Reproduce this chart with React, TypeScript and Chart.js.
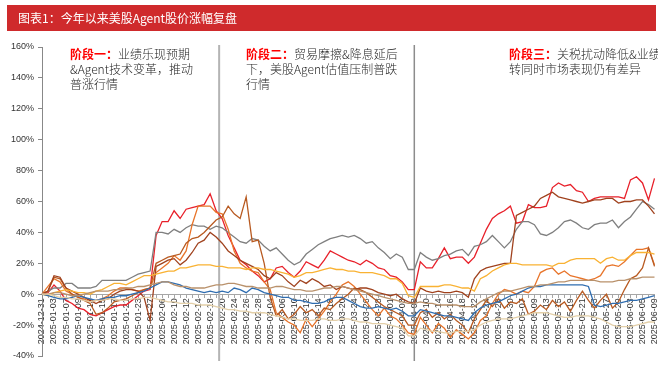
import React, { useEffect, useRef } from "react";
import { Chart, registerables } from "chart.js";
Chart.register(...registerables);

const dates = [
  "2024-12-31",
  "2025-01-02","2025-01-03","2025-01-06","2025-01-07","2025-01-08","2025-01-09","2025-01-10","2025-01-13","2025-01-14","2025-01-15","2025-01-16","2025-01-17","2025-01-20","2025-01-21","2025-01-22","2025-01-23","2025-01-24","2025-01-27",
  "2025-02-05","2025-02-06","2025-02-07","2025-02-10","2025-02-11","2025-02-12","2025-02-13","2025-02-14","2025-02-17","2025-02-18","2025-02-19","2025-02-20","2025-02-21","2025-02-24","2025-02-25","2025-02-26","2025-02-27","2025-02-28",
  "2025-03-03","2025-03-04","2025-03-05","2025-03-06","2025-03-07","2025-03-10","2025-03-11","2025-03-12","2025-03-13","2025-03-14","2025-03-17","2025-03-18","2025-03-19","2025-03-20","2025-03-21","2025-03-24","2025-03-25","2025-03-26","2025-03-27","2025-03-28","2025-03-31",
  "2025-04-01","2025-04-02","2025-04-03","2025-04-07","2025-04-08","2025-04-09","2025-04-10","2025-04-11","2025-04-14","2025-04-15","2025-04-16","2025-04-17","2025-04-18","2025-04-21","2025-04-22","2025-04-23","2025-04-24","2025-04-25","2025-04-28","2025-04-29","2025-04-30",
  "2025-05-06","2025-05-07","2025-05-08","2025-05-09","2025-05-12","2025-05-13","2025-05-14","2025-05-15","2025-05-16","2025-05-19","2025-05-20","2025-05-21","2025-05-22","2025-05-23","2025-05-26","2025-05-27","2025-05-28","2025-05-29","2025-05-30",
  "2025-06-03","2025-06-04","2025-06-05","2025-06-06","2025-06-09",
];

const redSeries = [0,1,6,2,-4,-6,-9,-10,-13,-14,-12,-10,-8,-7,-7,-4,-1,2,3,
  38,47,47,54,49,55,56,57,58,65,54,
  49,38,30,22,19,15,12,8,10,17,
  18,14,11,15,21,19,17,22,28,26,
  24,22,21,19,22,20,17,16,12,11,
  8,3,3,21,17,17,23,30,23,24,
  24,20,24,33,42,49,52,54,57,46,
  47,58,56,56,57,69,72,70,71,67,
  66,60,62,63,63,63,63,62,74,76,
  72,61,75];

const graySeries = [0,2,4,4,7,7,4,4,4,5,9,9,9,9,9,11,13,14,15,
  40,40,39,42,40,43,45,44,44,42,44,
  43,40,37,34,33,36,35,31,28,30,
  26,22,19,21,26,29,32,34,36,37,
  38,37,38,36,33,34,30,27,23,26,
  24,16,16,27,24,22,23,25,26,28,
  29,25,31,32,34,38,34,30,34,42,
  47,47,45,39,38,40,43,47,48,46,
  43,42,45,46,46,48,43,47,50,55,
  60,58,55];

const amberSeries = [0,-1,1,2,3,2,1,1,0,2,3,5,7,7,6,8,10,12,12,
  13,14,15,15,17,17,18,19,19,19,18,
  18,17,17,17,16,17,17,16,16,15,
  14,13,11,12,14,14,15,16,17,16,
  16,15,15,14,14,14,13,12,10,10,
  7,-1,-2,5,5,5,5,6,6,5,
  4,4,2,10,12,15,17,19,20,20,
  19,19,19,19,19,18,20,20,22,23,
  23,23,23,20,23,24,22,22,25,27,
  27,27,26];

const orangeSeries = [0,5,10,8,2,0,-2,-3,-5,-4,-3,-1,2,4,4,3,2,3,4,
  14,17,20,25,22,28,45,57,57,57,53,
  52,42,28,20,17,15,14,8,3,-12,
  -15,-18,-20,-25,-16,-21,-16,-11,-5,0,
  6,8,5,0,-5,-10,-14,-9,-14,-16,
  -20,-25,-26,-15,-20,-25,-19,-22,-28,-23,
  -26,-29,-25,-17,-14,-6,0,3,2,0,
  2,1,5,14,16,17,13,15,12,11,
  10,9,10,12,18,19,18,21,25,29,
  29,30,19];

const siennaSeries = [0,2,11,10,4,0,-2,-4,-6,-13,-12,-9,-5,-4,-3,-1,1,3,4,
  20,22,24,25,26,33,36,37,40,44,48,
  50,57,52,49,63,34,35,20,-2,-14,
  -10,-16,-13,-8,-12,-10,-14,-9,-10,-6,
  -3,0,4,3,1,-2,-5,-8,-10,-12,
  -14,-20,-20,-12,-10,-15,-12,-16,-13,-17,
  -20,-25,-16,-10,-4,-8,-3,-9,-5,-6,
  -3,-13,-11,-7,-10,-4,-8,-5,-11,-4,
  2,-4,-9,-4,0,-9,-5,3,10,12,
  17,30,18];

const brownSeries = [0,2,12,11,4,2,0,-2,-4,-6,-4,-3,0,2,3,3,2,-2,-17,
  18,20,22,23,19,22,27,33,35,40,37,
  33,28,25,22,20,18,16,12,10,14,
  12,8,5,9,7,10,8,5,6,3,
  5,4,3,4,4,3,1,0,-1,0,
  -3,-5,-6,4,2,1,2,1,1,2,
  1,-2,10,15,17,18,19,20,20,51,
  53,55,57,62,64,66,63,62,61,60,
  59,60,61,61,62,62,59,60,60,61,
  61,57,52];

const tanSeries = [0,0,1,1,0,-1,-1,0,1,2,2,2,3,3,4,4,5,5,6,
  7,8,8,6,5,5,4,4,4,5,6,
  6,7,7,6,5,5,4,4,4,5,
  5,4,3,3,2,2,3,4,4,5,
  5,4,3,2,1,0,-1,-2,-3,-4,
  -5,-6,-6,-5,-6,-6,-7,-7,-7,-7,
  -8,-8,-8,-5,-3,-1,1,2,2,3,
  4,5,5,6,6,7,8,8,9,9,
  9,9,9,8,8,8,9,9,10,10,
  11,11,11];

const blueSeries = [0,-1,-2,-3,-3,-2,-1,-2,-3,-4,-3,-2,-2,-1,-1,0,1,2,4,
  6,8,8,7,6,4,3,2,1,2,1,
  2,1,4,3,1,4,3,1,0,-1,
  -2,-2,-4,-4,-5,-6,-6,-5,-3,-2,
  -2,-4,-6,-8,-9,-9,-8,-9,-10,-9,
  -11,-14,-14,-10,-11,-12,-13,-14,-14,-15,
  -16,-17,-12,-9,-7,-6,-5,-3,-1,0,
  2,4,5,5,6,6,6,6,6,6,
  6,5,-7,-8,-7,-6,-6,-5,-4,-4,
  -3,-2,-1];

const beigeSeries = [0,0,-1,-2,-2,-3,-3,-4,-5,-4,-4,-3,-3,-4,-4,-3,-3,-2,-2,
  -3,-4,-5,-5,-6,-6,-6,-7,-7,-7,-8,
  -9,-10,-10,-11,-11,-12,-12,-12,-13,-14,
  -15,-16,-16,-17,-17,-17,-16,-16,-17,-17,
  -16,-16,-17,-18,-18,-19,-19,-19,-20,-21,
  -22,-27,-27,-22,-23,-24,-24,-25,-25,-24,
  -24,-24,-23,-20,-18,-17,-16,-16,-16,-15,
  -14,-13,-12,-12,-12,-13,-14,-15,-15,-14,
  -14,-14,-15,-16,-18,-20,-21,-21,-21,-20,
  -19,-18,-18];

const yMin = -40;
const yMax = 160;
const yStep = 20;

const stageBreaks = [29.5, 62];

const titleText = "图表1：今年以来美股Agent股价涨幅复盘";

type Seg = { t: string; red?: boolean };
const stageNotes: { x: number; y: number; lines: Seg[][] }[] = [
  {
    x: 70, y: 54,
    lines: [
      [{ t: "阶段一：", red: true }, { t: "业绩乐现预期" }],
      [{ t: "&Agent技术变革，推动" }],
      [{ t: "普涨行情" }],
    ],
  },
  {
    x: 246, y: 54,
    lines: [
      [{ t: "阶段二：", red: true }, { t: "贸易摩擦&降息延后" }],
      [{ t: "下，美股Agent估值压制普跌" }],
      [{ t: "行情" }],
    ],
  },
  {
    x: 509, y: 54,
    lines: [
      [{ t: "阶段三：", red: true }, { t: "关税扰动降低&业绩" }],
      [{ t: "转同时市场表现仍有差异" }],
    ],
  },
];

const series = [
  { name: "S9", data: beigeSeries, color: "#E3CFA8" },
  { name: "S8", data: tanSeries, color: "#B9916B" },
  { name: "S7", data: blueSeries, color: "#2F6DB0" },
  { name: "S6", data: amberSeries, color: "#F9B233" },
  { name: "S5", data: brownSeries, color: "#A0421E" },
  { name: "S4", data: siennaSeries, color: "#B85A21" },
  { name: "S3", data: orangeSeries, color: "#E8742A" },
  { name: "S2", data: graySeries, color: "#7F7F7F" },
  { name: "S1", data: redSeries, color: "#E8202A" },
];

const overlayPlugin = {
  id: "overlay",
  beforeDatasetsDraw(chart: any) {
    const { ctx, chartArea, scales } = chart;
    ctx.save();
    stageBreaks.forEach((b, i) => {
      const px = scales.x.getPixelForValue(b);
      ctx.strokeStyle = i === 0 ? "#B4B4B4" : "#8C8C8C";
      ctx.lineWidth = i === 0 ? 2 : 1.5;
      ctx.beginPath();
      ctx.moveTo(px, chartArea.top - 2);
      ctx.lineTo(px, chartArea.bottom + 5);
      ctx.stroke();
    });
    ctx.restore();
  },
  afterDraw(chart: any) {
    const { ctx } = chart;
    ctx.save();
    ctx.fillStyle = "#CF2A2C";
    ctx.fillRect(7, 5, 649, 26);
    ctx.fillStyle = "#FFFFFF";
    ctx.font = "12px 'Noto Sans CJK SC'";
    ctx.textBaseline = "middle";
    ctx.textAlign = "left";
    ctx.fillText(titleText, 18, 18);
    stageNotes.forEach((n) => {
      n.lines.forEach((line, li) => {
        let x = n.x;
        const y = n.y + li * 15;
        line.forEach((s) => {
          ctx.font = s.red ? "bold 12px 'Noto Sans CJK SC'" : "300 12px 'Noto Sans CJK SC'";
          ctx.fillStyle = s.red ? "#FF0000" : "#262626";
          ctx.fillText(s.t, x, y);
          x += ctx.measureText(s.t).width;
        });
      });
    });
    ctx.restore();
  },
};

export default function App() {
  const ref = useRef<HTMLCanvasElement | null>(null);
  useEffect(() => {
    if (!ref.current) return;
    const tickFont = { family: "'Liberation Sans', Arial, sans-serif", size: 9 };
    const chart = new Chart(ref.current, {
      type: "line",
      data: {
        labels: dates,
        datasets: series.map((s) => ({
          label: s.name,
          data: s.data,
          borderColor: s.color,
          backgroundColor: s.color,
          borderWidth: 1.3,
          pointRadius: 0,
          tension: 0,
          fill: false,
        })),
      },
      options: {
        animation: false,
        responsive: false,
        devicePixelRatio: 1,
        layout: { padding: { top: 47, right: 3.5, bottom: 9, left: 0 } },
        plugins: { legend: { display: false }, tooltip: { enabled: false }, title: { display: false } },
        scales: {
          x: {
            type: "category",
            position: { y: 0 } as any,
            offset: false,
            grid: { display: true, drawOnChartArea: false, drawTicks: true, tickLength: 3, color: "#A6A6A6" },
            border: { display: true, color: "#A6A6A6", width: 1 },
            ticks: {
              autoSkip: false,
              maxRotation: 90,
              minRotation: 90,
              padding: 1,
              font: tickFont,
              color: "#333333",
              callback: (_v: any, i: number) => (i % 2 === 0 ? dates[i] : ""),
            },
            afterFit: (s: any) => {
              s.height = 0;
              s.paddingLeft = 0;
              s.paddingRight = 0;
            },
          },
          y: {
            min: yMin,
            max: yMax,
            ticks: { stepSize: yStep, callback: (v: any) => v + "%", font: tickFont, color: "#333333", padding: 4 },
            grid: { display: true, drawOnChartArea: false, drawTicks: true, tickLength: 4, color: "#888888" },
            border: { display: true, color: "#888888", width: 1 },
            afterFit: (s: any) => {
              s.width = 42;
              s.paddingTop = 0;
              s.paddingBottom = 0;
            },
          },
        },
      },
      plugins: [overlayPlugin],
    });
    return () => chart.destroy();
  }, []);
  return (
    <div style={{ position: "absolute", left: 0, top: 0, width: 658, height: 365, background: "#fff", overflow: "hidden" }}>
      <canvas ref={ref} width={658} height={365} style={{ width: 658, height: 365, display: "block" }} />
    </div>
  );
}
